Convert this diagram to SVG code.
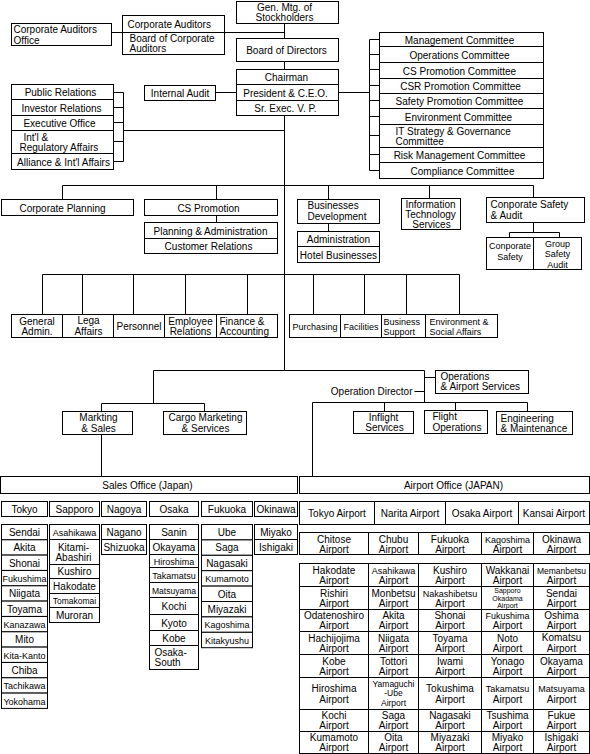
<svg xmlns="http://www.w3.org/2000/svg" width="590" height="754" viewBox="0 0 590 754">
<style>
.b{fill:#fff;stroke:#000;stroke-width:1}
.l{fill:none;stroke:#000;stroke-width:1}
text{font-family:"Liberation Sans",Arial,sans-serif;font-size:10px;fill:#000}
.c{text-anchor:middle}
.n{font-size:9px}
.s{font-size:8.5px}
.xs{font-size:7px}
</style>
<rect x="0" y="0" width="590" height="754" fill="#fff"/>
<g transform="translate(0.5,0.5)">
<g id="connectors" class="l">
<path d="M111 32H122M224 32H284M284 23V38M284 61V69M284 115V370M215 92H236M338 92H369M369 39V170"/>
<path d="M369 39H379M369 54H379M369 69H379M369 85H379M369 100H379M369 116H379M369 135H379M369 154H379M369 170H379"/>
<path d="M113 92H123M113 107H123M113 122H123M113 141H123M113 161H123M123 92V161M123 130H284"/>
<path d="M62 185H533M62 185V199M216 185V199M328 185V199M429 185V198M533 185V197M216 215V222M328 223V231M533 222V232M509 232H559M509 232V237M559 232V237"/>
<path d="M42 274H459M42 274V314M82 274V314M133 274V314M185 274V314M247 274V314M313 274V314M364 274V314M406 274V314M459 274V314"/>
<path d="M153 370H424M153 370V403M101 403H204M101 403V411M204 403V411M101 434V476"/>
<path d="M424 370V402M312 402H527M312 402V476M384 402V411M455 402V410M527 402V411M414 391H424M424 377H435"/>
</g>

<g id="gen-mtg"><rect class="b" x="236" y="1" width="102" height="22"/><text class="c" x="284" y="10">Gen. Mtg. of</text><text class="c" x="284" y="20">Stockholders</text></g>
<g id="corp-auditors-office"><rect class="b" x="11" y="23" width="100" height="22"/><text x="13" y="32">Corporate Auditors</text><text x="13" y="43">Office</text></g>
<g id="corp-auditors"><rect class="b" x="122" y="15" width="102" height="17"/><text x="127" y="27">Corporate Auditors</text></g>
<g id="board-corp-auditors"><rect class="b" x="122" y="32" width="102" height="22"/><text x="129" y="41">Board of Corporate</text><text x="129" y="51">Auditors</text></g>
<g id="board-directors"><rect class="b" x="236" y="38" width="102" height="23"/><text class="c" x="286" y="53">Board of Directors</text></g>
<g id="chairman"><rect class="b" x="236" y="69" width="102" height="15"/><text class="c" x="286" y="80">Chairman</text></g>
<g id="president"><rect class="b" x="236" y="84" width="102" height="16"/><text class="c" x="285" y="96">President &amp; C.E.O.</text></g>
<g id="sr-exec"><rect class="b" x="236" y="100" width="102" height="15"/><text class="c" x="285" y="111">Sr. Exec. V. P.</text></g>
<g id="internal-audit"><rect class="b" x="144" y="85" width="71" height="15"/><text class="c" x="179.5" y="96">Internal Audit</text></g>

<g id="public-relations"><rect class="b" x="11" y="84" width="102" height="15"/><text class="c" x="60" y="95">Public Relations</text></g>
<g id="investor-relations"><rect class="b" x="11" y="99" width="102" height="16"/><text class="c" x="61" y="111">Investor Relations</text></g>
<g id="executive-office"><rect class="b" x="11" y="115" width="102" height="15"/><text class="c" x="59" y="126">Executive Office</text></g>
<g id="intl-regulatory"><rect class="b" x="11" y="130" width="102" height="23"/><text x="23" y="140">Int'l &amp;</text><text x="19" y="150">Regulatory Affairs</text></g>
<g id="alliance"><rect class="b" x="11" y="153" width="102" height="16"/><text class="c" x="63" y="165">Alliance &amp; Int'l Affairs</text></g>

<g id="management-committee"><rect class="b" x="379" y="32" width="164" height="14"/><text class="c" x="459" y="43">Management Committee</text></g>
<g id="operations-committee"><rect class="b" x="379" y="46" width="164" height="16"/><text class="c" x="459" y="58">Operations Committee</text></g>
<g id="cs-committee"><rect class="b" x="379" y="62" width="164" height="16"/><text class="c" x="459" y="74">CS Promotion Committee</text></g>
<g id="csr-committee"><rect class="b" x="379" y="78" width="164" height="15"/><text class="c" x="460" y="89">CSR Promotion Committee</text></g>
<g id="safety-committee"><rect class="b" x="379" y="93" width="164" height="15"/><text class="c" x="459" y="104">Safety  Promotion Committee</text></g>
<g id="environment-committee"><rect class="b" x="379" y="108" width="164" height="16"/><text class="c" x="458" y="120">Environment Committee</text></g>
<g id="it-committee"><rect class="b" x="379" y="124" width="164" height="23"/><text x="395" y="134">IT Strategy &amp; Governance</text><text x="395" y="144">Committee</text></g>
<g id="risk-committee"><rect class="b" x="379" y="147" width="164" height="15"/><text class="c" x="459" y="158">Risk Management Committee</text></g>
<g id="compliance-committee"><rect class="b" x="379" y="162" width="164" height="16"/><text class="c" x="462" y="174">Compliance Committee</text></g>

<g id="corporate-planning"><rect class="b" x="1" y="199" width="132" height="16"/><text class="c" x="62" y="211">Corporate Planning</text></g>
<g id="cs-promotion"><rect class="b" x="144" y="199" width="133" height="16"/><text class="c" x="208" y="211">CS Promotion</text></g>
<g id="planning-admin"><rect class="b" x="144" y="222" width="133" height="16"/><text class="c" x="210" y="234">Planning &amp; Administration</text></g>
<g id="customer-relations"><rect class="b" x="144" y="238" width="133" height="15"/><text class="c" x="208" y="249">Customer Relations</text></g>
<g id="businesses-development"><rect class="b" x="297" y="199" width="82" height="24"/><text x="307" y="208">Businesses</text><text x="307" y="219">Development</text></g>
<g id="administration"><rect class="b" x="297" y="231" width="82" height="15"/><text class="c" x="338" y="242">Administration</text></g>
<g id="hotel-businesses"><rect class="b" x="297" y="246" width="82" height="16"/><text class="c" x="338" y="258">Hotel Businesses</text></g>
<g id="it-services"><rect class="b" x="401" y="198" width="59" height="31"/><text class="c" x="430" y="207">Information</text><text class="c" x="430" y="217">Technology</text><text class="c" x="431" y="227">Services</text></g>
<g id="corporate-safety-audit"><rect class="b" x="486" y="197" width="98" height="25"/><text x="490" y="207">Conporate Safety</text><text x="490" y="218">&amp; Audit</text></g>
<g id="corporate-safety"><rect class="b" x="486" y="237" width="47" height="32"/><text class="c n" x="509.5" y="248">Conporate</text><text class="c n" x="509.5" y="259">Safety</text></g>
<g id="group-safety-audit"><rect class="b" x="533" y="237" width="48" height="32"/><text class="c n" x="557" y="246">Group</text><text class="c n" x="557" y="256">Safety</text><text class="c n" x="557" y="267">Audit</text></g>

<g id="general-admin"><rect class="b" x="11" y="314" width="51" height="23"/><text class="c" x="36.5" y="324">General</text><text class="c" x="36.5" y="334">Admin.</text></g>
<g id="legal-affairs"><rect class="b" x="62" y="314" width="51" height="23"/><text class="c" x="88" y="323">Lega</text><text class="c" x="88" y="334">Affairs</text></g>
<g id="personnel"><rect class="b" x="113" y="314" width="51" height="23"/><text class="c" x="138.5" y="329">Personnel</text></g>
<g id="employee-relations"><rect class="b" x="164" y="314" width="52" height="23"/><text class="c" x="190" y="324">Employee</text><text class="c" x="190" y="334">Relations</text></g>
<g id="finance-accounting"><rect class="b" x="216" y="314" width="61" height="23"/><text x="219" y="324">Finance &amp;</text><text x="219" y="334">Accounting</text></g>
<g id="purchasing"><rect class="b" x="289" y="314" width="51" height="23"/><text class="c n" x="314.5" y="329">Purchasing</text></g>
<g id="facilities"><rect class="b" x="340" y="314" width="41" height="23"/><text class="c n" x="360.5" y="329">Facilities</text></g>
<g id="business-support"><rect class="b" x="381" y="314" width="44" height="23"/><text class="n" x="383" y="324">Business</text><text class="n" x="383" y="334">Support</text></g>
<g id="environment-social"><rect class="b" x="425" y="314" width="72" height="23"/><text class="n" x="429" y="324">Environment &amp;</text><text class="n" x="429" y="334">Social Affairs</text></g>

<g id="operation-director"><text x="412" y="394" style="text-anchor:end">Operation Director</text></g>
<g id="operations-airport-services"><rect class="b" x="435" y="370" width="93" height="23"/><text x="440" y="379">Operations</text><text x="440" y="389">&amp; Airport Services</text></g>
<g id="marketing-sales"><rect class="b" x="62" y="411" width="70" height="23"/><text class="c" x="98" y="420">Markting</text><text class="c" x="98" y="431">&amp; Sales</text></g>
<g id="cargo-marketing"><rect class="b" x="163" y="411" width="83" height="23"/><text class="c" x="205" y="420">Cargo Marketing</text><text class="c" x="205" y="431">&amp; Services</text></g>
<g id="inflight-services"><rect class="b" x="353" y="411" width="60" height="22"/><text class="c" x="383" y="420">Inflight</text><text class="c" x="384" y="430">Services</text></g>
<g id="flight-operations"><rect class="b" x="424" y="410" width="63" height="23"/><text x="432" y="419">Flight</text><text x="432" y="430">Operations</text></g>
<g id="engineering-maintenance"><rect class="b" x="496" y="411" width="76" height="23"/><text x="500" y="421">Engineering</text><text x="500" y="431">&amp; Maintenance</text></g>

<g id="sales-office"><rect class="b" x="0" y="476" width="297" height="17"/><text class="c" x="147" y="488">Sales Office (Japan)</text></g>
<g id="airport-office"><rect class="b" x="299" y="476" width="290" height="17"/><text class="c" x="453" y="488">Airport Office (JAPAN)</text></g>

<g id="tokyo"><rect class="b" x="1" y="501" width="46" height="15"/><text class="c" x="24" y="512">Tokyo</text></g>
<g id="sapporo"><rect class="b" x="49" y="501" width="50" height="15"/><text class="c" x="74" y="512">Sapporo</text></g>
<g id="nagoya"><rect class="b" x="101" y="501" width="45" height="15"/><text class="c" x="123.5" y="512">Nagoya</text></g>
<g id="osaka"><rect class="b" x="149" y="501" width="49" height="15"/><text class="c" x="173.5" y="512">Osaka</text></g>
<g id="fukuoka"><rect class="b" x="201" y="501" width="51" height="15"/><text class="c" x="226.5" y="512">Fukuoka</text></g>
<g id="okinawa"><rect class="b" x="254" y="501" width="43" height="15"/><text class="c" x="275.5" y="512">Okinawa</text></g>

<g id="t-sendai"><rect class="b" x="1" y="524" width="46" height="15.3"/><text class="c" x="24" y="535">Sendai</text></g>
<g id="t-akita"><rect class="b" x="1" y="539.3" width="46" height="15.3"/><text class="c" x="24" y="550.5">Akita</text></g>
<g id="t-shonai"><rect class="b" x="1" y="554.6" width="46" height="15.3"/><text class="c" x="24" y="566">Shonai</text></g>
<g id="t-fukushima"><rect class="b" x="1" y="570" width="46" height="15.3"/><text class="c n" x="24" y="581">Fukushima</text></g>
<g id="t-niigata"><rect class="b" x="1" y="585.3" width="46" height="15.3"/><text class="c" x="24" y="596.5">Niigata</text></g>
<g id="t-toyama"><rect class="b" x="1" y="600.6" width="46" height="15.3"/><text class="c" x="24" y="612">Toyama</text></g>
<g id="t-kanazawa"><rect class="b" x="1" y="616" width="46" height="15.3"/><text class="c n" x="24" y="627">Kanazawa</text></g>
<g id="t-mito"><rect class="b" x="1" y="631.3" width="46" height="15.3"/><text class="c" x="24" y="642.5">Mito</text></g>
<g id="t-kitakanto"><rect class="b" x="1" y="646.6" width="46" height="15.3"/><text class="c n" x="24" y="658">Kita-Kanto</text></g>
<g id="t-chiba"><rect class="b" x="1" y="662" width="46" height="15.3"/><text class="c" x="24" y="673">Chiba</text></g>
<g id="t-tachikawa"><rect class="b" x="1" y="677.3" width="46" height="15.3"/><text class="c n" x="24" y="688.5">Tachikawa</text></g>
<g id="t-yokohama"><rect class="b" x="1" y="692.6" width="46" height="15.3"/><text class="c n" x="24" y="704">Yokohama</text></g>

<g id="s-asahikawa"><rect class="b" x="49" y="524" width="50" height="15"/><text class="c n" x="74" y="535">Asahikawa</text></g>
<g id="s-kitami"><rect class="b" x="49" y="539" width="50" height="25"/><text class="c" x="73" y="550">Kitami-</text><text class="c" x="73" y="560">Abashiri</text></g>
<g id="s-kushiro"><rect class="b" x="49" y="564" width="50" height="14"/><text class="c" x="74" y="574.5">Kushiro</text></g>
<g id="s-hakodate"><rect class="b" x="49" y="578" width="50" height="15"/><text class="c" x="74" y="589">Hakodate</text></g>
<g id="s-tomakomai"><rect class="b" x="49" y="593" width="50" height="14"/><text class="c s" x="74" y="603.5">Tomakomai</text></g>
<g id="s-muroran"><rect class="b" x="49" y="607" width="50" height="15"/><text class="c" x="74" y="618">Muroran</text></g>

<g id="n-nagano"><rect class="b" x="101" y="524" width="45" height="15"/><text class="c" x="123.5" y="535">Nagano</text></g>
<g id="n-shizuoka"><rect class="b" x="101" y="539" width="45" height="15"/><text class="c" x="123.5" y="550">Shizuoka</text></g>

<g id="o-sanin"><rect class="b" x="149" y="524" width="49" height="15"/><text class="c" x="173.5" y="535">Sanin</text></g>
<g id="o-okayama"><rect class="b" x="149" y="539" width="49" height="15"/><text class="c" x="173.5" y="550">Okayama</text></g>
<g id="o-hiroshima"><rect class="b" x="149" y="554" width="49" height="13"/><text class="c n" x="173.5" y="564">Hiroshima</text></g>
<g id="o-takamatsu"><rect class="b" x="149" y="567" width="49" height="15"/><text class="c n" x="173.5" y="578">Takamatsu</text></g>
<g id="o-matsuyama"><rect class="b" x="149" y="582" width="49" height="15"/><text class="c s" x="173.5" y="593">Matsuyama</text></g>
<g id="o-kochi"><rect class="b" x="149" y="597" width="49" height="17"/><text class="c" x="173.5" y="609">Kochi</text></g>
<g id="o-kyoto"><rect class="b" x="149" y="614" width="49" height="16"/><text class="c" x="173.5" y="626">Kyoto</text></g>
<g id="o-kobe"><rect class="b" x="149" y="630" width="49" height="15"/><text class="c" x="173.5" y="641">Kobe</text></g>
<g id="o-osakasouth"><rect class="b" x="149" y="645" width="49" height="24"/><text x="154" y="655">Osaka-</text><text x="154" y="665">South</text></g>

<g id="f-ube"><rect class="b" x="201" y="524" width="51" height="15.4"/><text class="c" x="226.5" y="535">Ube</text></g>
<g id="f-saga"><rect class="b" x="201" y="539.4" width="51" height="15.4"/><text class="c" x="226.5" y="550.5">Saga</text></g>
<g id="f-nagasaki"><rect class="b" x="201" y="554.8" width="51" height="15.4"/><text class="c" x="226.5" y="566">Nagasaki</text></g>
<g id="f-kumamoto"><rect class="b" x="201" y="570.2" width="51" height="15.4"/><text class="c n" x="226.5" y="581.5">Kumamoto</text></g>
<g id="f-oita"><rect class="b" x="201" y="585.6" width="51" height="15.4"/><text class="c" x="226.5" y="597">Oita</text></g>
<g id="f-miyazaki"><rect class="b" x="201" y="601" width="51" height="15.4"/><text class="c" x="226.5" y="612">Miyazaki</text></g>
<g id="f-kagoshima"><rect class="b" x="201" y="616.4" width="51" height="15.4"/><text class="c n" x="226.5" y="627.5">Kagoshima</text></g>
<g id="f-kitakyushu"><rect class="b" x="201" y="631.8" width="51" height="15.4"/><text class="c n" x="226.5" y="643">Kitakyushu</text></g>

<g id="k-miyako"><rect class="b" x="254" y="524" width="43" height="15"/><text class="c" x="275.5" y="535">Miyako</text></g>
<g id="k-ishigaki"><rect class="b" x="254" y="539" width="43" height="15"/><text class="c" x="275.5" y="550">Ishigaki</text></g>

<g id="a-tokyo"><rect class="b" x="299" y="501" width="75" height="23"/><text class="c" x="336.5" y="516">Tokyo Airport</text></g>
<g id="a-narita"><rect class="b" x="374" y="501" width="71" height="23"/><text class="c" x="409.5" y="516">Narita Airport</text></g>
<g id="a-osaka"><rect class="b" x="445" y="501" width="73" height="23"/><text class="c" x="481.5" y="516">Osaka Airport</text></g>
<g id="a-kansai"><rect class="b" x="518" y="501" width="71" height="23"/><text class="c" x="553.5" y="516">Kansai Airport</text></g>

<g id="a-chitose"><rect class="b" x="299" y="532" width="69" height="22"/><text class="c" x="333.5" y="542">Chitose</text><text class="c" x="333.5" y="552">Airport</text></g>
<g id="a-chubu"><rect class="b" x="368" y="532" width="50" height="22"/><text class="c" x="393" y="542">Chubu</text><text class="c" x="393" y="552">Airport</text></g>
<g id="a-fukuoka"><rect class="b" x="418" y="532" width="63" height="22"/><text class="c" x="449.5" y="542">Fukuoka</text><text class="c" x="449.5" y="552">Airport</text></g>
<g id="a-kagoshima"><rect class="b" x="481" y="532" width="52" height="22"/><text class="c n" x="507" y="542">Kagoshima</text><text class="c" x="507" y="552">Airport</text></g>
<g id="a-okinawa"><rect class="b" x="533" y="532" width="56" height="22"/><text class="c" x="561" y="542">Okinawa</text><text class="c" x="561" y="552">Airport</text></g>

<g id="g-hakodate"><rect class="b" x="299" y="563" width="69" height="23"/><text class="c" x="333.5" y="573">Hakodate</text><text class="c" x="333.5" y="583">Airport</text></g>
<g id="g-asahikawa"><rect class="b" x="368" y="563" width="50" height="23"/><text class="c n" x="393" y="573">Asahikawa</text><text class="c" x="393" y="583">Airport</text></g>
<g id="g-kushiro"><rect class="b" x="418" y="563" width="63" height="23"/><text class="c" x="449.5" y="573">Kushiro</text><text class="c" x="449.5" y="583">Airport</text></g>
<g id="g-wakkanai"><rect class="b" x="481" y="563" width="52" height="23"/><text class="c" x="507" y="573">Wakkanai</text><text class="c" x="507" y="583">Airport</text></g>
<g id="g-memanbetsu"><rect class="b" x="533" y="563" width="56" height="23"/><text class="c s" x="561" y="573">Memanbetsu</text><text class="c" x="561" y="583">Airport</text></g>

<g id="g-rishiri"><rect class="b" x="299" y="586" width="69" height="23"/><text class="c" x="333.5" y="596">Rishiri</text><text class="c" x="333.5" y="606">Airport</text></g>
<g id="g-monbetsu"><rect class="b" x="368" y="586" width="50" height="23"/><text class="c" x="393" y="596">Monbetsu</text><text class="c" x="393" y="606">Airport</text></g>
<g id="g-nakashibetsu"><rect class="b" x="418" y="586" width="63" height="23"/><text class="c n" x="449.5" y="596">Nakashibetsu</text><text class="c" x="449.5" y="606">Airport</text></g>
<g id="g-okadama"><rect class="b" x="481" y="586" width="52" height="23"/><text class="c xs" x="507" y="592.5">Sapporo</text><text class="c xs" x="507" y="600">Okadama</text><text class="c xs" x="507" y="607.5">Airport</text></g>
<g id="g-sendai"><rect class="b" x="533" y="586" width="56" height="23"/><text class="c" x="561" y="596">Sendai</text><text class="c" x="561" y="606">Airport</text></g>

<g id="g-odatenoshiro"><rect class="b" x="299" y="609" width="69" height="22"/><text class="c" x="333.5" y="618">Odatenoshiro</text><text class="c" x="333.5" y="628">Airport</text></g>
<g id="g-akita"><rect class="b" x="368" y="609" width="50" height="22"/><text class="c" x="393" y="618">Akita</text><text class="c" x="393" y="628">Airport</text></g>
<g id="g-shonai"><rect class="b" x="418" y="609" width="63" height="22"/><text class="c" x="449.5" y="618">Shonai</text><text class="c" x="449.5" y="628">Airport</text></g>
<g id="g-fukushima"><rect class="b" x="481" y="609" width="52" height="22"/><text class="c n" x="507" y="618">Fukushima</text><text class="c" x="507" y="628">Airport</text></g>
<g id="g-oshima"><rect class="b" x="533" y="609" width="56" height="22"/><text class="c" x="561" y="618">Oshima</text><text class="c" x="561" y="628">Airport</text></g>

<g id="g-hachijojima"><rect class="b" x="299" y="631" width="69" height="23"/><text class="c" x="333.5" y="641">Hachijojima</text><text class="c" x="333.5" y="651">Airport</text></g>
<g id="g-niigata"><rect class="b" x="368" y="631" width="50" height="23"/><text class="c" x="393" y="641">Niigata</text><text class="c" x="393" y="651">Airport</text></g>
<g id="g-toyama"><rect class="b" x="418" y="631" width="63" height="23"/><text class="c" x="449.5" y="641">Toyama</text><text class="c" x="449.5" y="651">Airport</text></g>
<g id="g-noto"><rect class="b" x="481" y="631" width="52" height="23"/><text class="c" x="507" y="641">Noto</text><text class="c" x="507" y="651">Airport</text></g>
<g id="g-komatsu"><rect class="b" x="533" y="631" width="56" height="23"/><text class="c" x="561" y="640">Komatsu</text><text class="c" x="561" y="651">Airport</text></g>

<g id="g-kobe"><rect class="b" x="299" y="654" width="69" height="23"/><text class="c" x="333.5" y="664">Kobe</text><text class="c" x="333.5" y="674">Airport</text></g>
<g id="g-tottori"><rect class="b" x="368" y="654" width="50" height="23"/><text class="c" x="393" y="664">Tottori</text><text class="c" x="393" y="674">Airport</text></g>
<g id="g-iwami"><rect class="b" x="418" y="654" width="63" height="23"/><text class="c" x="449.5" y="664">Iwami</text><text class="c" x="449.5" y="674">Airport</text></g>
<g id="g-yonago"><rect class="b" x="481" y="654" width="52" height="23"/><text class="c" x="507" y="664">Yonago</text><text class="c" x="507" y="674">Airport</text></g>
<g id="g-okayama"><rect class="b" x="533" y="654" width="56" height="23"/><text class="c" x="561" y="664">Okayama</text><text class="c" x="561" y="674">Airport</text></g>

<g id="g-hiroshima"><rect class="b" x="299" y="677" width="69" height="32"/><text class="c" x="333.5" y="691">Hiroshima</text><text class="c" x="333.5" y="702">Airport</text></g>
<g id="g-yamaguchi"><rect class="b" x="368" y="677" width="50" height="32"/><text class="c s" x="393" y="686">Yamaguchi</text><text class="c s" x="393" y="695">-Ube</text><text class="c s" x="393" y="705">Airport</text></g>
<g id="g-tokushima"><rect class="b" x="418" y="677" width="63" height="32"/><text class="c" x="449.5" y="691">Tokushima</text><text class="c" x="449.5" y="702">Airport</text></g>
<g id="g-takamatsu"><rect class="b" x="481" y="677" width="52" height="32"/><text class="c n" x="507" y="691">Takamatsu</text><text class="c" x="507" y="702">Airport</text></g>
<g id="g-matsuyama"><rect class="b" x="533" y="677" width="56" height="32"/><text class="c n" x="561" y="691">Matsuyama</text><text class="c" x="561" y="702">Airport</text></g>

<g id="g-kochi"><rect class="b" x="299" y="709" width="69" height="22"/><text class="c" x="333.5" y="718">Kochi</text><text class="c" x="333.5" y="728">Airport</text></g>
<g id="g-saga"><rect class="b" x="368" y="709" width="50" height="22"/><text class="c" x="393" y="718">Saga</text><text class="c" x="393" y="728">Airport</text></g>
<g id="g-nagasaki"><rect class="b" x="418" y="709" width="63" height="22"/><text class="c" x="449.5" y="718">Nagasaki</text><text class="c" x="449.5" y="728">Airport</text></g>
<g id="g-tsushima"><rect class="b" x="481" y="709" width="52" height="22"/><text class="c" x="507" y="718">Tsushima</text><text class="c" x="507" y="728">Airport</text></g>
<g id="g-fukue"><rect class="b" x="533" y="709" width="56" height="22"/><text class="c" x="561" y="718">Fukue</text><text class="c" x="561" y="728">Airport</text></g>

<g id="g-kumamoto"><rect class="b" x="299" y="731" width="69" height="22"/><text class="c" x="333.5" y="740">Kumamoto</text><text class="c" x="333.5" y="750">Airport</text></g>
<g id="g-oita"><rect class="b" x="368" y="731" width="50" height="22"/><text class="c" x="393" y="740">Oita</text><text class="c" x="393" y="750">Airport</text></g>
<g id="g-miyazaki"><rect class="b" x="418" y="731" width="63" height="22"/><text class="c" x="449.5" y="740">Miyazaki</text><text class="c" x="449.5" y="750">Airport</text></g>
<g id="g-miyako"><rect class="b" x="481" y="731" width="52" height="22"/><text class="c" x="507" y="740">Miyako</text><text class="c" x="507" y="750">Airport</text></g>
<g id="g-ishigaki"><rect class="b" x="533" y="731" width="56" height="22"/><text class="c" x="561" y="740">Ishigaki</text><text class="c" x="561" y="750">Airport</text></g>
</g>
</svg>
